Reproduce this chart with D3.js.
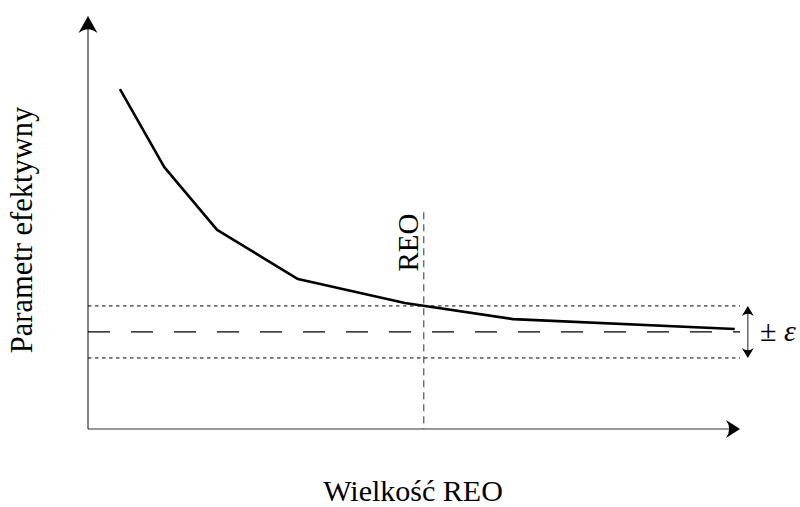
<!DOCTYPE html>
<html><head><meta charset="utf-8">
<script src="https://cdn.jsdelivr.net/npm/d3@7"></script>
<style>body{margin:0;background:#fff}svg{display:block}text{font-family:"Liberation Serif","Times New Roman",serif;fill:#000}</style>
</head><body><div id="c"></div>
<script>
// data (abstract units 0..10)
const curveX = [0.49, 1.17, 1.98, 3.22, 4.86, 6.52, 9.92];
const curveY = [8.23, 6.34, 4.82, 3.63, 3.05, 2.66, 2.42];
const asymptote = 2.35;
const epsilon = 0.63;
const reoX = 5.15;
const reoTop = 5.25;
const xLabel = "Wielkość REO";
const yLabel = "Parametr efektywny";
const reoLabel = "REO";

const W = 800, H = 507;
const svg = d3.select("#c").append("svg").attr("width", W).attr("height", H);
const x = d3.scaleLinear().domain([0, 10]).range([88, 740]);
const y = d3.scaleLinear().domain([0, 10]).range([429, 16]);

const axisColor = "#333";
// axes
svg.append("line").attr("x1", x(0)).attr("x2", x(10) - 8).attr("y1", y(0)).attr("y2", y(0))
  .attr("stroke", axisColor).attr("stroke-width", 1.2);
svg.append("line").attr("x1", x(0)).attr("x2", x(0)).attr("y1", y(0)).attr("y2", y(10) + 8)
  .attr("stroke", axisColor).attr("stroke-width", 1.2);
// arrow heads (stealth style)
function head(tx, ty, angle, len, hw) {
  const p = `M0,0 L${-len},${-hw} Q${-len * 0.55},0 ${-len},${hw} Z`;
  svg.append("path").attr("d", p).attr("fill", "#000")
    .attr("transform", `translate(${tx},${ty}) rotate(${angle})`);
}
head(x(10), y(0), 0, 14, 9);
head(x(0), y(10), -90, 17, 9.5);

// epsilon band lines
[asymptote + epsilon, asymptote - epsilon].forEach(v => {
  svg.append("line").attr("x1", x(0)).attr("x2", x(10)).attr("y1", y(v)).attr("y2", y(v))
    .attr("stroke", "#000").attr("stroke-width", 1).attr("stroke-dasharray", "3.5,3.5");
});
svg.append("line").attr("x1", x(0)).attr("x2", x(10)).attr("y1", y(asymptote)).attr("y2", y(asymptote))
  .attr("stroke", "#000").attr("stroke-width", 1.2).attr("stroke-dasharray", "22,21");

// REO vertical
svg.append("line").attr("x1", x(reoX)).attr("x2", x(reoX)).attr("y1", y(reoTop)).attr("y2", y(0))
  .attr("stroke", "#444").attr("stroke-width", 1.1).attr("stroke-dasharray", "7,5");
svg.append("text").attr("transform", `translate(${x(reoX) - 6},${(y(reoTop) + 273) / 2}) rotate(-90)`)
  .attr("text-anchor", "middle").attr("font-size", 29).text(reoLabel);

// curve
const pts = curveX.map((d, i) => [x(d), y(curveY[i])]);
svg.append("path").attr("d", d3.line()(pts)).attr("fill", "none")
  .attr("stroke", "#000").attr("stroke-width", 2.6).attr("stroke-linejoin", "round");

// double arrow
const ax = x(10.12);
const yTop = y(asymptote + epsilon), yBot = y(asymptote - epsilon);
svg.append("line").attr("x1", ax).attr("x2", ax).attr("y1", yTop + 5).attr("y2", yBot - 5)
  .attr("stroke", "#333").attr("stroke-width", 1.1);
head(ax, yTop, -90, 10, 6);
head(ax, yBot, 90, 10, 6);

const pm = svg.append("text").attr("x", 760).attr("y", y(asymptote) + 9).attr("font-size", 30);
pm.append("tspan").text("± ");
pm.append("tspan").attr("font-style", "italic").text("ε");

// axis labels
svg.append("text").attr("x", 413).attr("y", 501).attr("text-anchor", "middle")
  .attr("font-size", 30).text(xLabel);
svg.append("text").attr("transform", `translate(32,230) rotate(-90)`).attr("text-anchor", "middle")
  .attr("font-size", 30.5).text(yLabel);
</script></body></html>
